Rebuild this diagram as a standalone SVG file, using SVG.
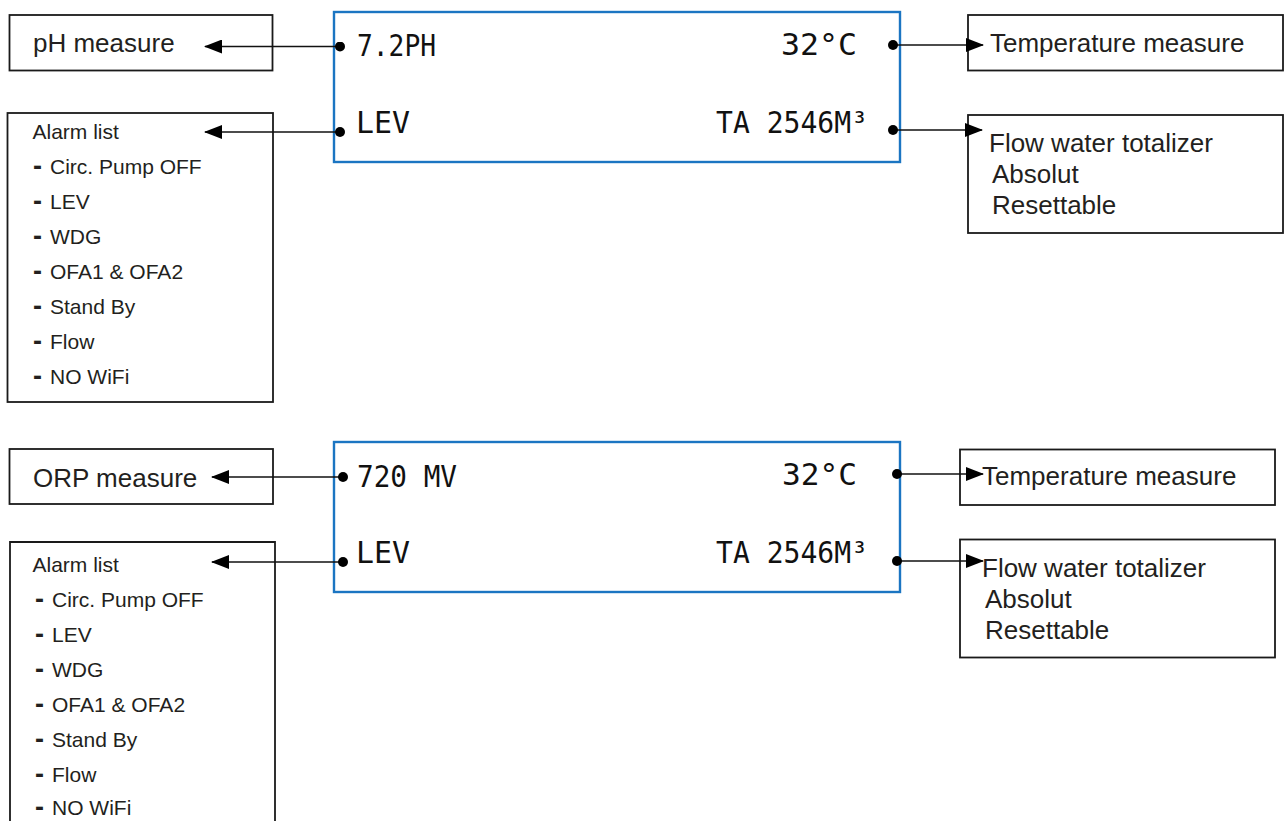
<svg xmlns="http://www.w3.org/2000/svg" width="1286" height="821" viewBox="0 0 1286 821">
<style>
.box{fill:#fff;stroke:#1a1a1a;stroke-width:1.8}
.lcd{fill:#fff;stroke:#1b75c2;stroke-width:2.4}
.lbl{font-family:"Liberation Sans",Arial,sans-serif;font-size:26px;fill:#231f20}
.al{font-family:"Liberation Sans",Arial,sans-serif;font-size:21px;fill:#231f20}
.al .d{font-weight:bold;font-size:27px}
.seg{font-family:"DejaVu Sans Mono",monospace;font-size:30px;fill:#111}
.con{stroke:#111;stroke-width:1.3;fill:none;marker-start:url(#dot);marker-end:url(#arr)}
</style>
<defs>
<marker id="arr" viewBox="0 0 18 14" refX="17" refY="7" markerWidth="18" markerHeight="14" markerUnits="userSpaceOnUse" orient="auto">
<path d="M0,0 L18,7 L0,14 Z" fill="#000"/>
</marker>
<marker id="dot" viewBox="0 0 10 10" refX="5" refY="5" markerWidth="10" markerHeight="10" markerUnits="userSpaceOnUse">
<circle cx="5" cy="5" r="5" fill="#000"/>
</marker>
</defs>

<g id="lcd-top">
<rect class="lcd" x="334" y="12" width="566" height="150"/>
<text class="seg" x="357" y="56" textLength="79" lengthAdjust="spacingAndGlyphs">7.2PH</text>
<text class="seg" x="781" y="55" textLength="76" lengthAdjust="spacingAndGlyphs">32°C</text>
<text class="seg" x="356" y="133" textLength="54" lengthAdjust="spacingAndGlyphs">LEV</text>
<text class="seg" x="716" y="133" textLength="152" lengthAdjust="spacingAndGlyphs">TA 2546M³</text>
</g>

<g id="ph-measure">
<rect class="box" x="9.5" y="15" width="263" height="55.5"/>
<text class="lbl" x="33" y="52">pH measure</text>
</g>

<g id="alarm-top">
<rect class="box" x="7.5" y="113" width="265.5" height="289"/>
<text class="al" x="32.5" y="139">Alarm list</text>
<text class="al" y="174"><tspan class="d" x="33" dy="1">-</tspan><tspan x="50" dy="-1">Circ. Pump OFF</tspan></text>
<text class="al" y="209"><tspan class="d" x="33" dy="1">-</tspan><tspan x="50" dy="-1">LEV</tspan></text>
<text class="al" y="244"><tspan class="d" x="33" dy="1">-</tspan><tspan x="50" dy="-1">WDG</tspan></text>
<text class="al" y="279"><tspan class="d" x="33" dy="1">-</tspan><tspan x="50" dy="-1">OFA1 &amp; OFA2</tspan></text>
<text class="al" y="314"><tspan class="d" x="33" dy="1">-</tspan><tspan x="50" dy="-1">Stand By</tspan></text>
<text class="al" y="349"><tspan class="d" x="33" dy="1">-</tspan><tspan x="50" dy="-1">Flow</tspan></text>
<text class="al" y="384"><tspan class="d" x="33" dy="1">-</tspan><tspan x="50" dy="-1">NO WiFi</tspan></text>
</g>

<g id="temp-top">
<rect class="box" x="968" y="15" width="315" height="55.5"/>
<text class="lbl" x="990" y="52">Temperature measure</text>
</g>

<g id="flow-top">
<rect class="box" x="968" y="115" width="315" height="118"/>
<text class="lbl" x="989" y="152">Flow water totalizer</text>
<text class="lbl" x="992" y="183">Absolut</text>
<text class="lbl" x="992" y="214">Resettable</text>
</g>

<g id="lcd-bottom">
<rect class="lcd" x="334" y="442" width="566" height="150"/>
<text class="seg" x="357" y="487" textLength="100" lengthAdjust="spacingAndGlyphs">720 MV</text>
<text class="seg" x="782" y="485" textLength="75" lengthAdjust="spacingAndGlyphs">32°C</text>
<text class="seg" x="356" y="563" textLength="54" lengthAdjust="spacingAndGlyphs">LEV</text>
<text class="seg" x="716" y="563" textLength="152" lengthAdjust="spacingAndGlyphs">TA 2546M³</text>
</g>

<g id="orp-measure">
<rect class="box" x="9.5" y="449" width="263.5" height="55"/>
<text class="lbl" x="33" y="487">ORP measure</text>
</g>

<g id="alarm-bottom">
<path class="box" d="M10,830 V542 H275 V830" />
<text class="al" x="32.5" y="572">Alarm list</text>
<text class="al" y="607"><tspan class="d" x="35" dy="1">-</tspan><tspan x="52" dy="-1">Circ. Pump OFF</tspan></text>
<text class="al" y="642"><tspan class="d" x="35" dy="1">-</tspan><tspan x="52" dy="-1">LEV</tspan></text>
<text class="al" y="677"><tspan class="d" x="35" dy="1">-</tspan><tspan x="52" dy="-1">WDG</tspan></text>
<text class="al" y="712"><tspan class="d" x="35" dy="1">-</tspan><tspan x="52" dy="-1">OFA1 &amp; OFA2</tspan></text>
<text class="al" y="747"><tspan class="d" x="35" dy="1">-</tspan><tspan x="52" dy="-1">Stand By</tspan></text>
<text class="al" y="782"><tspan class="d" x="35" dy="1">-</tspan><tspan x="52" dy="-1">Flow</tspan></text>
<text class="al" y="815"><tspan class="d" x="35" dy="1">-</tspan><tspan x="52" dy="-1">NO WiFi</tspan></text>
</g>

<g id="temp-bottom">
<rect class="box" x="960" y="449.5" width="315" height="55.5"/>
<text class="lbl" x="982" y="485">Temperature measure</text>
</g>

<g id="flow-bottom">
<rect class="box" x="960" y="539.5" width="315" height="118"/>
<text class="lbl" x="982" y="577">Flow water totalizer</text>
<text class="lbl" x="985" y="608">Absolut</text>
<text class="lbl" x="985" y="639">Resettable</text>
</g>

<g id="connectors">
<line class="con" x1="340" y1="46.5" x2="205" y2="46.5"/>
<line class="con" x1="340" y1="132" x2="205" y2="132"/>
<line class="con" x1="893" y1="45" x2="983" y2="45"/>
<line class="con" x1="893" y1="130" x2="982" y2="130"/>
<line class="con" x1="343" y1="477" x2="212" y2="477"/>
<line class="con" x1="343" y1="562" x2="212" y2="562"/>
<line class="con" x1="897" y1="474" x2="983" y2="474"/>
<line class="con" x1="897" y1="561" x2="983" y2="561"/>
</g>
</svg>
